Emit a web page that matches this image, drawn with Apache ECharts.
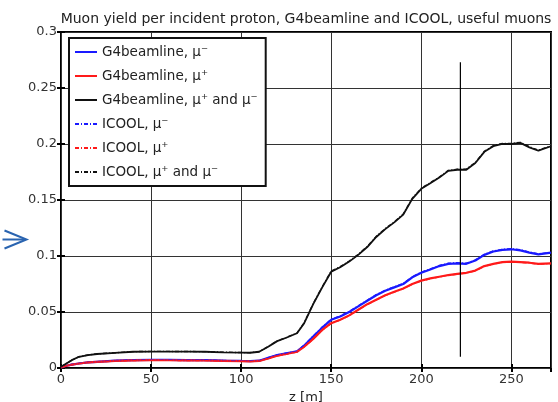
<!DOCTYPE html>
<html><head><meta charset="utf-8">
<script src="https://cdn.jsdelivr.net/npm/echarts@6/dist/echarts.min.js"></script>
<style>html,body{margin:0;padding:0;background:#fff}#c{width:558px;height:402px}</style>
</head><body><div id="c"></div>
<script>
const titleText = 'Muon yield per incident proton, G4beamline and ICOOL, useful muons';
const xLabel = 'z [m]';
const xTicks = [0, 50, 100, 150, 200, 250];
const yTicks = [0, 0.05, 0.1, 0.15, 0.2, 0.25, 0.3];
const seriesNames = ['G4beamline, μ⁻', 'G4beamline, μ⁺', 'G4beamline, μ⁺ and μ⁻', 'ICOOL, μ⁻', 'ICOOL, μ⁺', 'ICOOL, μ⁺ and μ⁻'];
const z = [0,3,6,10,15,20,30,40,50,60,70,80,90,100,105,110,115,120,125,131,135,140,145,150,155,160,165,170,175,180,185,190,195,200,205,210,215,220,225,230,235,240,245,250,255,260,265,272];
const g4Minus = [0.0005,0.002,0.003,0.004,0.005,0.0055,0.0065,0.007,0.0072,0.0072,0.0071,0.007,0.0066,0.0063,0.0062,0.0065,0.009,0.0115,0.013,0.0148,0.020,0.028,0.036,0.043,0.046,0.050,0.055,0.060,0.065,0.069,0.072,0.075,0.081,0.085,0.088,0.091,0.093,0.0935,0.093,0.096,0.101,0.104,0.1055,0.106,0.105,0.103,0.1015,0.103];
const g4Plus = [0.0005,0.002,0.003,0.004,0.005,0.0055,0.0063,0.0068,0.007,0.0069,0.0068,0.0067,0.0064,0.0061,0.006,0.0063,0.0085,0.011,0.0125,0.0145,0.019,0.026,0.034,0.040,0.043,0.047,0.052,0.057,0.061,0.065,0.068,0.071,0.075,0.078,0.080,0.0815,0.083,0.084,0.085,0.087,0.091,0.093,0.0945,0.095,0.0945,0.094,0.093,0.0935];
const g4Both = [0.001,0.004,0.007,0.010,0.0115,0.0125,0.0135,0.0145,0.0147,0.0147,0.0146,0.0145,0.014,0.0137,0.0136,0.0145,0.019,0.024,0.027,0.031,0.040,0.057,0.072,0.086,0.090,0.095,0.101,0.108,0.117,0.124,0.130,0.137,0.151,0.160,0.165,0.170,0.176,0.177,0.177,0.183,0.193,0.198,0.200,0.200,0.201,0.197,0.194,0.198];
const icMinus = [0.0005,0.0021,0.0031,0.0041,0.0051,0.0056,0.0066,0.0071,0.0073,0.0072,0.0072,0.0071,0.0067,0.0064,0.0063,0.0066,0.0092,0.0117,0.0132,0.015,0.0205,0.0285,0.0365,0.0435,0.0465,0.0505,0.0555,0.0605,0.0655,0.0695,0.0725,0.0755,0.0815,0.0855,0.0885,0.0915,0.0935,0.094,0.0935,0.0965,0.1015,0.1045,0.106,0.1065,0.1055,0.1035,0.102,0.1032];
const icPlus = [0.0005,0.0019,0.0029,0.0039,0.0049,0.0054,0.0062,0.0067,0.0069,0.0068,0.0067,0.0066,0.0063,0.006,0.0059,0.0062,0.0084,0.0108,0.0123,0.0143,0.0188,0.0258,0.0338,0.0398,0.0428,0.0468,0.0518,0.0568,0.0608,0.0648,0.0678,0.0708,0.0748,0.0778,0.0798,0.0813,0.0828,0.0838,0.0848,0.0868,0.0908,0.0928,0.0943,0.0948,0.0943,0.0938,0.0928,0.0933];
const icBoth = [0.001,0.0041,0.0071,0.0101,0.0116,0.0126,0.0136,0.0146,0.0148,0.0148,0.0147,0.0146,0.0141,0.0138,0.0137,0.0146,0.0192,0.0242,0.0272,0.0312,0.0405,0.0575,0.0725,0.0865,0.0905,0.0955,0.1015,0.1085,0.1175,0.1245,0.1305,0.1375,0.1515,0.1605,0.1655,0.1705,0.1765,0.1775,0.1775,0.1835,0.1935,0.1985,0.2005,0.2005,0.2015,0.1975,0.1945,0.1985];
const markerZ = [221.7, 221.7];
const markerY = [0.01, 0.273];

const pair = (xs, ys) => xs.map((x, i) => [x, ys[i]]);
const colors = ['#1a1aff', '#ff1a1a', '#111111', '#1a1aff', '#ff1a1a', '#111111'];
const values = [g4Minus, g4Plus, g4Both, icMinus, icPlus, icBoth];
const FONT = 'DejaVu Sans';

const series = values.map((v, i) => ({
  name: seriesNames[i], type: 'line', data: pair(z, v), showSymbol: false, symbol: 'none',
  xAxisIndex: 0, yAxisIndex: 0,
  z: i < 3 ? 3 : 4,
  lineStyle: i < 3 ? {color: colors[i], width: i === 2 ? 1.8 : 2.2}
                   : {color: colors[i], width: 1.4, type: [4, 2, 1, 2]},
  itemStyle: {color: colors[i]}
}));
series.push({
  name: 'marker', type: 'line', data: pair(markerZ, markerY), showSymbol: false, symbol: 'none',
  lineStyle: {color: '#000', width: 1.2}, z: 5, silent: true
});

const tickStyle = {show: true, inside: true, length: 4, lineStyle: {color: '#000', width: 2}};
const chart = echarts.init(document.getElementById('c'), null, {renderer: 'canvas'});
chart.setOption({
  backgroundColor: '#fff',
  animation: false,
  title: {text: titleText, left: 301, textAlign: 'center', top: 7,
    textStyle: {fontFamily: FONT, fontSize: 14, fontWeight: 'normal', color: '#222'}},
  grid: {left: 61, right: 7, top: 32, bottom: 34, show: true, borderColor: '#000', borderWidth: 2,
    backgroundColor: '#fff', containLabel: false, outerBoundsMode: 'none'},
  legend: {
    data: seriesNames, orient: 'vertical', left: 69, top: 38,
    backgroundColor: '#fff', borderColor: '#111', borderWidth: 2, borderRadius: 0,
    padding: [7, 8, 7, 5], itemGap: 10, itemWidth: 22, itemHeight: 16,
    itemStyle: {opacity: 0},
    textStyle: {fontFamily: FONT, fontSize: 13.5, color: '#222'}
  },
  xAxis: [{
    type: 'value', min: 0, max: 272, interval: 50,
    name: xLabel, nameLocation: 'middle', nameGap: 17,
    nameTextStyle: {fontFamily: FONT, fontSize: 13, color: '#222'},
    axisLine: {show: false}, axisTick: tickStyle,
    axisLabel: {fontFamily: FONT, fontSize: 13, color: '#333', margin: 5, showMaxLabel: false},
    splitLine: {show: true, lineStyle: {color: '#333', width: 1}}
  }, {
    type: 'value', position: 'top', min: 0, max: 272, interval: 50,
    axisLine: {show: false}, axisTick: tickStyle, axisLabel: {show: false}, splitLine: {show: false}
  }],
  yAxis: [{
    type: 'value', min: 0, max: 0.3, interval: 0.05,
    axisLine: {show: false}, axisTick: tickStyle,
    axisLabel: {fontFamily: FONT, fontSize: 13, color: '#333', margin: 4, formatter: v => String(+v.toFixed(2))},
    splitLine: {show: true, lineStyle: {color: '#333', width: 1}}
  }, {
    type: 'value', position: 'right', min: 0, max: 0.3, interval: 0.05,
    axisLine: {show: false}, axisTick: tickStyle, axisLabel: {show: false}, splitLine: {show: false}
  }],
  graphic: [{
    type: 'polyline', left: 2, top: 228,
    shape: {points: [[0, 0], [22, 9], [0, 18]]},
    style: {stroke: '#2a64b0', lineWidth: 2, fill: null}
  }, {
    type: 'line', left: 0, top: 237,
    shape: {x1: 0, y1: 0, x2: 22, y2: 0},
    style: {stroke: '#2a64b0', lineWidth: 2}
  }],
  series: series
});
</script></body></html>
